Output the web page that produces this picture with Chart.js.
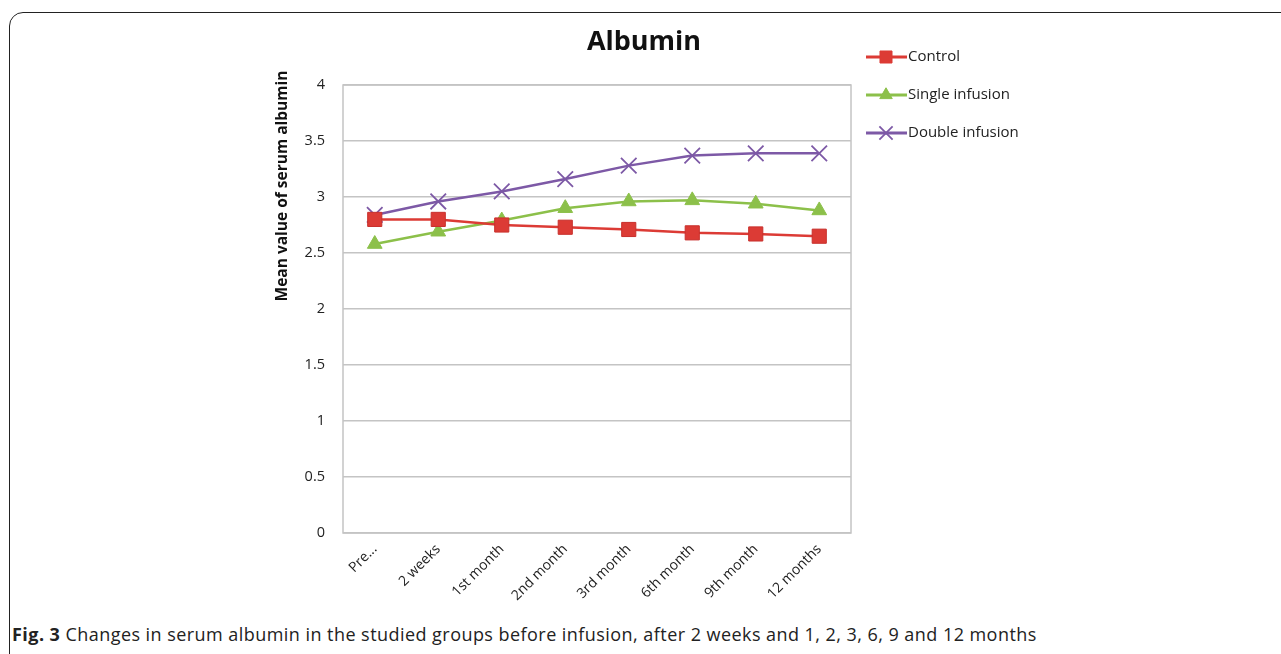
<!DOCTYPE html>
<html>
<head>
<meta charset="utf-8">
<script src="https://cdn.jsdelivr.net/npm/chart.js@4"></script>
<style>
  html, body { margin: 0; padding: 0; background: #fff; overflow: hidden; }
  body { width: 1281px; height: 654px; position: relative; }
  .frame { position: absolute; left: 9px; top: 12px; width: 1320px; height: 700px;
           border: 1.5px solid #222; border-radius: 14px; box-sizing: border-box; }
  .caption { position: absolute; left: 12px; top: 622px; font-family: "Open Sans", "Noto Sans", sans-serif;
             font-size: 18px; color: #222; letter-spacing: 0.45px; white-space: nowrap; }
  .caption b { font-weight: 700; }
  #wrap { position: absolute; left: 0; top: 0; width: 1281px; height: 654px; }
</style>
</head>
<body>
<div class="frame"></div>
<div class="caption"><b>Fig. 3</b> Changes in serum albumin in the studied groups before infusion, after 2 weeks and 1, 2, 3, 6, 9 and 12 months</div>
<div id="wrap"><canvas id="myChart" width="1281" height="654"></canvas></div>
<script>
// categories and values
const periods = ['Pre...', '2 weeks', '1st month', '2nd month', '3rd month', '6th month', '9th month', '12 months']
const control = [2.80, 2.80, 2.75, 2.73, 2.71, 2.68, 2.67, 2.65]
const singleInfusion = [2.58, 2.69, 2.79, 2.90, 2.96, 2.97, 2.94, 2.88]
const doubleInfusion = [2.84, 2.96, 3.05, 3.16, 3.28, 3.37, 3.39, 3.39]
const yTicks = [0, 0.5, 1, 1.5, 2, 2.5, 3, 3.5, 4]

const font = '"Open Sans", "Noto Sans", sans-serif'

// title, y-axis title, plot border and legend drawn by hand
const extras = {
    id: 'extras',
    beforeDatasetsDraw(chart) {
        const { ctx, chartArea: a } = chart
        ctx.save()
        ctx.strokeStyle = '#c4c4c4'
        ctx.lineWidth = 1.5
        ctx.strokeRect(a.left, a.top, a.right - a.left, a.bottom - a.top)
        ctx.restore()
    },
    afterDraw(chart) {
        const { ctx } = chart
        ctx.save()
        ctx.fillStyle = '#111'
        ctx.textAlign = 'center'
        ctx.textBaseline = 'middle'
        ctx.font = 'bold 27px ' + font
        ctx.fillText('Albumin', 644, 42)

        ctx.translate(283, 186)
        ctx.rotate(-Math.PI / 2)
        ctx.font = 'bold 15.5px ' + font
        ctx.fillText('Mean value of serum albumin', 0, 0)
        ctx.restore()

        ctx.save()
        chart.data.datasets.forEach((ds, i) => {
            const y = 57 + i * 38
            ctx.strokeStyle = ds.borderColor
            ctx.lineWidth = 3
            ctx.beginPath()
            ctx.moveTo(866, y)
            ctx.lineTo(907, y)
            ctx.stroke()
            ctx.fillStyle = ds.pointBackgroundColor
            ctx.lineWidth = ds.pointBorderWidth
            Chart.helpers.drawPoint(ctx, {
                pointStyle: ds.pointStyle, radius: ds.pointRadius * 0.85, rotation: 0, borderWidth: ds.pointBorderWidth
            }, 886, y)
            ctx.fillStyle = '#222'
            ctx.font = '15px ' + font
            ctx.textAlign = 'left'
            ctx.textBaseline = 'middle'
            ctx.fillText(ds.label, 908, y)
        })
        ctx.restore()
    }
}

let myChart = document.querySelector('#myChart').getContext('2d')
let albumin = new Chart(myChart, {
    type: 'line',
    data: {
        labels: periods,
        datasets: [{
            label: 'Control',
            data: control,
            borderColor: '#dc3b35',
            backgroundColor: '#dc3b35',
            pointBackgroundColor: '#dc3b35',
            pointBorderColor: '#c8302c',
            pointStyle: 'rect',
            pointRadius: 10,
            pointBorderWidth: 1,
            borderWidth: 2.5
        }, {
            label: 'Single infusion',
            data: singleInfusion,
            borderColor: '#8cc04a',
            backgroundColor: '#8cc04a',
            pointBackgroundColor: '#8cc04a',
            pointBorderColor: '#8cc04a',
            pointStyle: 'triangle',
            pointRadius: 8.5,
            pointBorderWidth: 1,
            borderWidth: 2.5
        }, {
            label: 'Double infusion',
            data: doubleInfusion,
            borderColor: '#7d59a6',
            backgroundColor: '#7d59a6',
            pointBackgroundColor: '#7d59a6',
            pointBorderColor: '#7d59a6',
            pointStyle: 'crossRot',
            pointRadius: 11,
            pointBorderWidth: 1.8,
            borderWidth: 2.5
        }]
    },
    options: {
        responsive: false,
        animation: false,
        layout: { padding: { left: 263, right: 430, top: 85, bottom: 41 } },
        plugins: {
            legend: { display: false },
            title: { display: false },
            tooltip: { enabled: false }
        },
        scales: {
            x: {
                offset: true,
                grid: { display: false, drawTicks: false },
                border: { display: false },
                afterFit: s => { s.height = 80 },
                ticks: {
                    minRotation: 45, maxRotation: 45, padding: 8,
                    color: '#222', font: { family: font, size: 14 }
                }
            },
            y: {
                min: 0, max: 4,
                afterBuildTicks: s => { s.ticks = yTicks.map(v => ({ value: v })) },
                afterFit: s => { s.width = 80 },
                grid: { color: '#c4c4c4', lineWidth: 1.5, drawTicks: false },
                border: { display: false },
                ticks: {
                    padding: 18, color: '#222', font: { family: font, size: 14.5 },
                    callback: v => String(v)
                }
            }
        }
    },
    plugins: [extras]
})
</script>
</body>
</html>
